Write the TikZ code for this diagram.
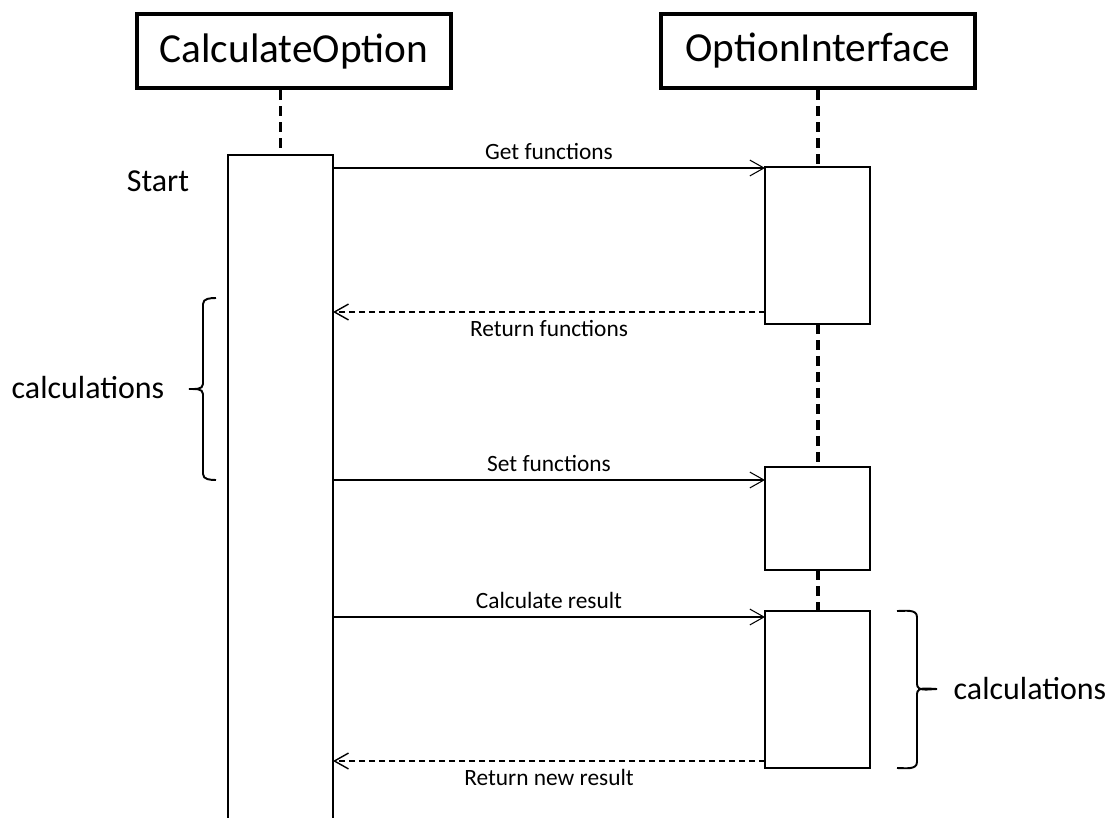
\documentclass[tikz,border=0pt]{standalone}
\usepackage{fontspec}
\setmainfont{Carlito}
\usetikzlibrary{arrows.meta}

\begin{document}
\begin{tikzpicture}[x=0.02cm,y=-0.02cm,
    head/.style={draw,line width=2.3pt,minimum width=6.28cm,minimum height=1.48cm,inner sep=0pt,font=\fontsize{23.5}{28}\selectfont},
    life/.style={line width=1.8pt,dash pattern=on 0.2cm off 0.12cm},
    act/.style={line width=1.4pt},
    msg/.style={line width=0.6pt,-{Straight Barb[length=8pt,width=9pt]}},
    ret/.style={msg,line width=0.8pt,dash pattern=on 0.12cm off 0.08cm},
    brk/.style={line width=1.1pt},
    lbl/.style={font=\fontsize{13.3}{16}\selectfont},
    big/.style={font=\fontsize{18.2}{22}\selectfont}]
    \useasboundingbox (0,0) rectangle (1119,818);

    % Objects
    \node[head] (calc) at (294,51) {CalculateOption};
    \node[head] (iface) at (818,51) {OptionInterface};

    % Activation of CalculateOption
    \coordinate (calcTop) at (280.5,155);
    \draw[life] (calcTop |- calc.south) -- (calcTop);
    \draw[act] (228,818) -- (228,155) -- (333,155) -- (333,818);
    \node[big] (start) at (158,181) {Start};

    % Activations of OptionInterface
    \draw[act] (765,167) rectangle (870,324);
    \draw[act] (765,467) rectangle (870,570);
    \draw[act] (765,611) rectangle (870,768);
    \coordinate (a1t) at (818,167);
    \coordinate (a1b) at (818,324);
    \coordinate (a2t) at (818,467);
    \coordinate (a2b) at (818,570);
    \coordinate (a3t) at (818,611);
    \draw[life] (iface.south) -- (a1t);
    \draw[life] (a1b) -- (a2t);
    \draw[life] (a2b) -- (a3t);

    % Messages
    \coordinate (getS) at (333,168);   \coordinate (getE) at (765,168);
    \coordinate (retS) at (765,312);   \coordinate (retE) at (333,312);
    \coordinate (setS) at (333,480);   \coordinate (setE) at (765,480);
    \coordinate (resS) at (333,617);   \coordinate (resE) at (765,617);
    \coordinate (newS) at (765,761);   \coordinate (newE) at (333,761);
    \draw[msg] (getS) -- node[lbl,above=1pt] (getL) {Get functions} (getE);
    \draw[ret] (retS) -- node[lbl,below=1pt] (retL) {Return functions} (retE);
    \draw[msg] (setS) -- node[lbl,above=1pt] (setL) {Set functions} (setE);
    \draw[msg] (resS) -- node[lbl,above=1pt] (resL) {Calculate result} (resE);
    \draw[ret] (newS) -- node[lbl,below=1pt] (newL) {Return new result} (newE);

    % Brackets
    \draw[brk] (216,298) to[out=180,in=90] (203,304) -- (203,384)
        to[out=-90,in=0] (189,389) to[out=0,in=90] (203,394) -- (203,474)
        to[out=-90,in=180] (216,480);
    \node[big] (calcL) at (88,388) {calculations};
    \draw[brk] (897,611) to[out=0,in=90] (917,617) -- (917,684)
        to[out=-90,in=180] (937,689) to[out=180,in=90] (917,694) -- (917,762)
        to[out=-90,in=0] (897,768);
    \node[big] (calcR) at (1030,689) {calculations};
\end{tikzpicture}
\end{document}
